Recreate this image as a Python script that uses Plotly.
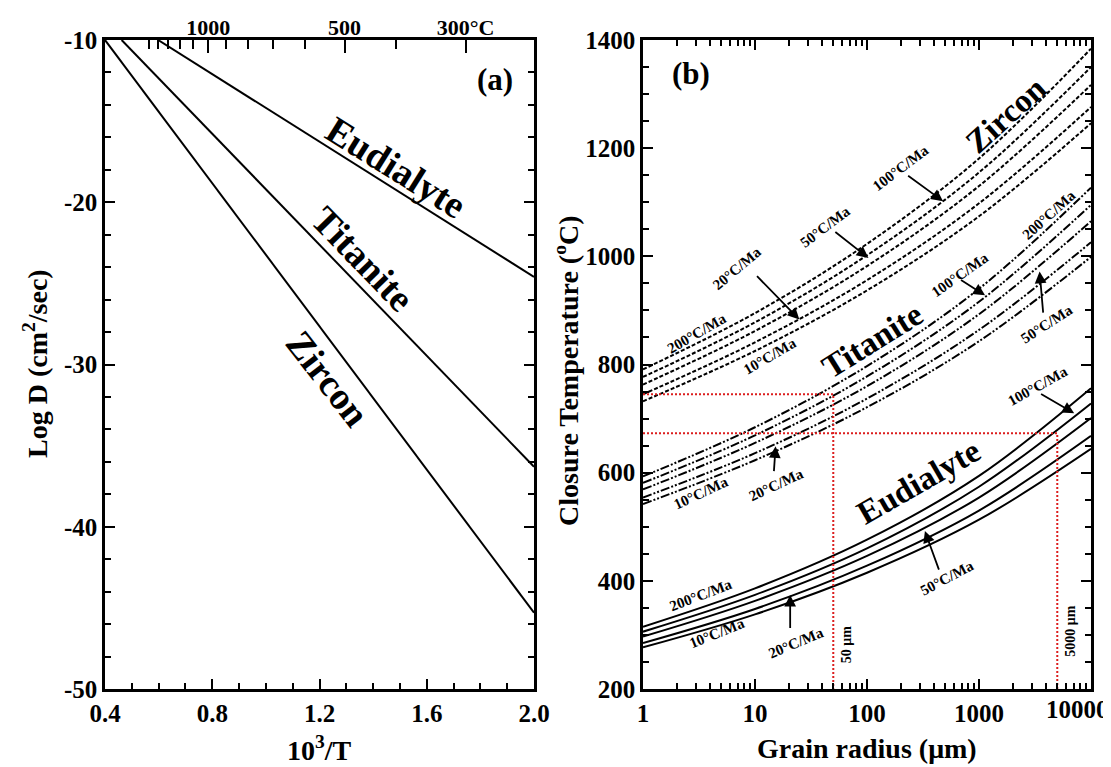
import math
import plotly.graph_objects as go

# ---------------- Panel (a): Arrhenius lines ----------------
zircon_invT = [0.4, 2.0]
zircon_logD = [-10.0, -45.3]
titanite_invT = [0.462, 2.0]
titanite_logD = [-10.0, -36.3]
eudialyte_invT = [0.598, 2.0]
eudialyte_logD = [-10.0, -24.6]

a_xticks = [0.4, 0.8, 1.2, 1.6, 2.0]
a_xticktext = ["0.4", "0.8", "1.2", "1.6", "2.0"]
a_yticks = [-50, -40, -30, -20, -10]
a_yticktext = ["-50", "-40", "-30", "-20", "-10"]
top_T_major = [1000, 500, 300]
top_T_text = ["1000", "500", "300°C"]
top_T_minor = [1500, 1400, 1300, 1200, 1100, 900, 800, 700, 600, 400]

# ---------------- Panel (b): closure temperature vs grain radius ----------------
radius_um = [1, 10, 100, 1000, 10000]
rate_names = ["10°C/Ma", "20°C/Ma", "50°C/Ma", "100°C/Ma", "200°C/Ma"]

zircon_10 = [732, 825, 937, 1074, 1246]
zircon_20 = [745, 841, 956, 1098, 1276]
zircon_50 = [763, 862, 982, 1130, 1317]
zircon_100 = [777, 878, 1002, 1155, 1350]
zircon_200 = [791, 895, 1023, 1181, 1384]

titanite_10 = [542, 623, 721, 843, 999]
titanite_20 = [554, 636, 737, 864, 1026]
titanite_50 = [569, 655, 760, 893, 1065]
titanite_100 = [581, 669, 778, 916, 1095]
titanite_200 = [593, 684, 797, 940, 1127]

eudialyte_10 = [277, 338, 415, 513, 644]
eudialyte_20 = [285, 348, 428, 530, 668]
eudialyte_50 = [297, 363, 446, 554, 701]
eudialyte_100 = [306, 374, 460, 574, 728]
eudialyte_200 = [315, 386, 476, 594, 756]

guide1_r = [1, 50, 50]
guide1_T = [745, 745, 200]
guide2_r = [1, 5000, 5000]
guide2_T = [673, 673, 200]

b_xticks = [1, 10, 100, 1000, 10000]
b_xticktext = ["1", "10", "100", "1000", "10000"]
b_yticks = [200, 400, 600, 800, 1000, 1200, 1400]
b_yticktext = ["200", "400", "600", "800", "1000", "1200", "1400"]

FONT = "Liberation Serif, Times New Roman, serif"
W, H = 1111, 767
L_PX, R_PX_A = 97, 526
L_PX_B, R_PX_B = 635, 1083
TOP_PX, BOT_PX = 32, 681


def bold(labels):
    return ["<b>%s</b>" % s for s in labels]


fig = go.Figure()

line_a = dict(color="black", width=2)
for xs, ys in [(zircon_invT, zircon_logD), (titanite_invT, titanite_logD),
               (eudialyte_invT, eudialyte_logD)]:
    fig.add_trace(go.Scatter(x=xs, y=ys, mode="lines", line=line_a,
                             xaxis="x", yaxis="y", showlegend=False, hoverinfo="skip"))
# invisible trace to activate the top temperature axis
fig.add_trace(go.Scatter(x=zircon_invT, y=zircon_logD, mode="lines", opacity=0,
                         xaxis="x3", yaxis="y", showlegend=False, hoverinfo="skip"))

families = [
    ([zircon_10, zircon_20, zircon_50, zircon_100, zircon_200], "4px,2px"),
    ([titanite_10, titanite_20, titanite_50, titanite_100, titanite_200],
     "9px,2px,2px,2px,2px,2px"),
    ([eudialyte_10, eudialyte_20, eudialyte_50, eudialyte_100, eudialyte_200], "solid"),
]
for curves, dash in families:
    for name, vals in zip(rate_names, curves):
        fig.add_trace(go.Scatter(x=radius_um, y=vals, mode="lines", name=name,
                                 line=dict(color="black", width=2, dash=dash, shape="spline",
                                           smoothing=1.0),
                                 xaxis="x2", yaxis="y2", showlegend=False, hoverinfo="skip"))

for gr, gt in [(guide1_r, guide1_T), (guide2_r, guide2_T)]:
    fig.add_trace(go.Scatter(x=gr, y=gt, mode="lines",
                             line=dict(color="rgb(220,30,30)", width=2, dash="2px,2px"),
                             xaxis="x2", yaxis="y2", showlegend=False, hoverinfo="skip"))

TICK_SIZE = 25
tickfont = dict(family=FONT, size=TICK_SIZE, color="black", weight="bold")
axis_common = dict(showgrid=False, zeroline=False, showline=True, linecolor="black",
                   linewidth=2.5, ticks="inside", tickcolor="black", tickwidth=2,
                   tickfont=tickfont, automargin=False, ticklabeloverflow="allow")

top_pos = [1000.0 / (t + 273.15) for t in top_T_major]
top_minor_pos = [1000.0 / (t + 273.15) for t in top_T_minor]
log_minor = [m * 10 ** d for d in range(4) for m in range(2, 10)]

# last x label of panel (b) is drawn as a right-anchored annotation so it stays inside the page
b_xticktext_axis = bold(b_xticktext[:-1]) + [""]

fig.update_layout(
    width=W, height=H,
    margin=dict(l=0, r=0, t=TOP_PX, b=H - BOT_PX, pad=0),
    paper_bgcolor="white", plot_bgcolor="white",
    xaxis=dict(domain=[L_PX / W, R_PX_A / W], range=[0.4, 2.0], anchor="y",
               tickmode="array", tickvals=a_xticks, ticktext=bold(a_xticktext), ticklen=10,
               mirror=True,
               minor=dict(ticks="inside", dtick=0.1, tick0=0.4, ticklen=6,
                          tickcolor="black", tickwidth=2, showgrid=False),
               **axis_common),
    xaxis3=dict(overlaying="x", side="top", range=[0.4, 2.0], anchor="y",
                tickmode="array", tickvals=top_pos, ticktext=bold(top_T_text), ticklen=13,
                showgrid=False, zeroline=False, showline=False, ticks="inside",
                tickcolor="black", tickwidth=2, ticklabeloverflow="allow",
                tickfont=dict(family=FONT, size=22, color="black", weight="bold"),
                minor=dict(ticks="inside", tickmode="array", tickvals=top_minor_pos,
                           ticklen=9, tickcolor="black", tickwidth=2, showgrid=False)),
    yaxis=dict(domain=[0, 1], range=[-50, -10], anchor="x",
               tickmode="array", tickvals=a_yticks, ticktext=bold(a_yticktext), ticklen=10,
               mirror="ticks",
               minor=dict(ticks="inside", dtick=2, tick0=-50, ticklen=6,
                          tickcolor="black", tickwidth=2, showgrid=False),
               **axis_common),
    xaxis2=dict(domain=[L_PX_B / W, R_PX_B / W], type="log", range=[0, 4], anchor="y2",
                tickmode="array", tickvals=b_xticks, ticktext=b_xticktext_axis, ticklen=10,
                mirror="ticks",
                minor=dict(ticks="inside", tickmode="array", tickvals=log_minor, ticklen=6,
                           tickcolor="black", tickwidth=2, showgrid=False),
                **axis_common),
    yaxis2=dict(domain=[0, 1], range=[200, 1400], anchor="x2",
                tickmode="array", tickvals=b_yticks, ticktext=bold(b_yticktext), ticklen=10,
                mirror="ticks",
                minor=dict(ticks="inside", dtick=50, tick0=200, ticklen=6,
                           tickcolor="black", tickwidth=2, showgrid=False),
                **axis_common),
)

ann = []


def txt(text, x, y, size, angle=0, xref="x2", yref="y2", color="black"):
    ann.append(dict(text="<b>%s</b>" % text, x=x, y=y, xref=xref, yref=yref, showarrow=False,
                    textangle=angle, xanchor="center", yanchor="middle",
                    font=dict(family=FONT, size=size, color=color, weight="bold")))


def arrow(tail, tip):
    ann.append(dict(text="", x=tip[0], y=tip[1], ax=tail[0], ay=tail[1],
                    xref="x2", yref="y2", axref="x2", ayref="y2", showarrow=True,
                    arrowhead=2, arrowsize=1.3, arrowwidth=1.8, arrowcolor="black"))


# panel (a) labels
txt("(a)", 1.853, -12.45, 31, xref="x", yref="y")
txt("Eudialyte", 1.484, -17.85, 38, 32, xref="x", yref="y")
txt("Titanite", 1.363, -23.48, 38, 46, xref="x", yref="y")
txt("Zircon", 1.229, -30.86, 38, 52, xref="x", yref="y")

# panel (b) labels (x in log10 of radius)
txt("(b)", 0.432, 1338, 31)
txt("Zircon", 3.24, 1262, 33, -42)
txt("Titanite", 2.045, 843, 33, -32)
txt("Eudialyte", 2.46, 582, 33, -30)

rs = 15
# zircon rates
txt("200°C/Ma", 0.485, 858, rs, -30)
txt("10°C/Ma", 1.134, 815, rs, -30)
txt("20°C/Ma", 0.843, 978, rs, -40)
txt("50°C/Ma", 1.623, 1055, rs, -37)
txt("100°C/Ma", 2.30, 1163, rs, -37)
arrow((2.354, 1151), (2.679, 1102))
arrow((1.704, 1047), (2.013, 997))
arrow((1.005, 966), (1.396, 883))
# titanite rates
txt("200°C/Ma", 3.622, 1077, rs, -42)
txt("100°C/Ma", 2.826, 966, rs, -35)
txt("50°C/Ma", 3.606, 874, rs, -33)
txt("20°C/Ma", 1.184, 578, rs, -25)
txt("10°C/Ma", 0.518, 562, rs, -25)
arrow((2.826, 958), (3.054, 928))
arrow((3.574, 893), (3.541, 972))
arrow((1.168, 600), (1.184, 649))
# eudialyte rates
txt("200°C/Ma", 0.518, 374, rs, -21)
txt("10°C/Ma", 0.663, 303, rs, -22)
txt("20°C/Ma", 1.363, 285, rs, -23)
txt("50°C/Ma", 2.713, 405, rs, -28)
txt("100°C/Ma", 3.525, 760, rs, -29)
arrow((1.314, 310), (1.314, 374))
arrow((2.647, 418), (2.517, 492))
arrow((3.541, 747), (3.85, 710))

# size labels
txt("50 μm", 1.818, 282, 14, -90)
txt("5000 μm", 3.818, 307, 14, -90)

# axis titles (paper coords)
PH = BOT_PX - TOP_PX


def ptitle(text, xpx, ypx, angle=0, size=28, xanchor="center"):
    ann.append(dict(text="<b>%s</b>" % text, x=xpx / W, y=(BOT_PX - ypx) / PH,
                    xref="paper", yref="paper",
                    showarrow=False, textangle=angle, xanchor=xanchor, yanchor="middle",
                    font=dict(family=FONT, size=size, color="black", weight="bold")))


ptitle("Log D (cm<sup>2</sup>/sec)", 27, 356, -90)
ptitle("10<sup>3</sup>/T", 311.5, 740)
ptitle("Closure Temperature (<sup>o</sup>C)", 558, 363, -90)
ptitle("Grain radius (μm)", 859, 740)
# the 10000 tick label, kept inside the right edge
ann.append(dict(text=b_xticktext[-1], x=(W - 8) / W, y=(BOT_PX - 701) / PH,
                xref="paper", yref="paper", showarrow=False, xanchor="right",
                yanchor="middle",
                font=dict(family=FONT, size=TICK_SIZE, color="black", weight="bold")))

fig.update_layout(annotations=ann)
fig.write_html("out.html")
